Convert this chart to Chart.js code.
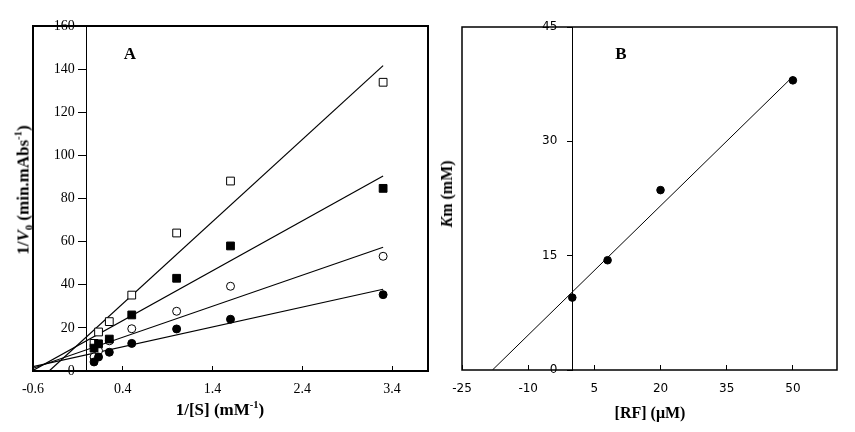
<!DOCTYPE html>
<html>
<head>
<meta charset="utf-8">
<script src="https://cdn.jsdelivr.net/npm/chart.js@4.4.1/dist/chart.umd.min.js"></script>
<style>
  body { margin: 0; background: #fff; }
  #page { position: relative; width: 855px; height: 432px; overflow: hidden; }
  .panel { position: absolute; top: 0; height: 432px; }
  .lbl { position: absolute; font-family: 'Liberation Serif', serif; font-weight: bold; color: #000; white-space: nowrap; line-height: 1; }
  .rot { transform: translate(-50%, -50%) rotate(-90deg); }
  .ctr { transform: translate(-50%, -50%); }
  sub, sup { font-size: 0.62em; line-height: 0; }
</style>
</head>
<body>
<div id="page">
  <div class="panel" style="left:0; width:440px;"><canvas id="chartA"></canvas></div>
  <div class="panel" style="left:420px; width:435px;"><canvas id="chartB"></canvas></div>

  <div class="lbl ctr" style="left:130px; top:53px; font-size:17px;">A</div>
  <div class="lbl ctr" style="left:621px; top:53px; font-size:17px;">B</div>
  <div class="lbl ctr" style="left:220px; top:409px; font-size:17px;">1/[S] (mM<sup>-1</sup>)</div>
  <div class="lbl rot" style="left:23px; top:190px; font-size:17px;">1/<i>V</i><sub>0</sub> (min.mAbs<sup>-1</sup>)</div>
  <div class="lbl ctr" style="left:650px; top:413px; font-size:16px;">[RF] (μM)</div>
  <div class="lbl rot" style="left:447px; top:194px; font-size:16px;"><i>K</i>m (mM)</div>
</div>

<script>
// Panel A: Lineweaver-Burk data
const sInv = [0.08, 0.13, 0.25, 0.5, 1.0, 1.6, 3.3];
const openSquares = [12.8, 18.1, 22.9, 35.2, 64.0, 88.1, 133.9];
const filledSquares = [10.6, 12.6, 14.8, 26.0, 43.0, 58.0, 84.7];
const openCircles = [6.5, 9.4, 14.0, 19.6, 27.7, 39.3, 53.2];
const filledCircles = [4.2, 6.5, 8.7, 12.8, 19.5, 24.0, 35.4];

// fitted lines in panel A, end points
const fitOpenSquares = [[-0.42, 0], [3.3, 141.6]];
const fitFilledSquares = [[-0.6, 0.3], [3.3, 90.4]];
const fitOpenCircles = [[-0.6, 1.25], [3.3, 57.4]];
const fitFilledCircles = [[-0.6, 2.0], [3.3, 37.9]];

const xTicksA = [-0.6, 0.4, 1.4, 2.4, 3.4];
const yTicksA = [0, 20, 40, 60, 80, 100, 120, 140, 160];

// Panel B: Km vs [RF]
const rf = [0, 8, 20, 50];
const km = [9.5, 14.4, 23.6, 38.0];
const fitKm = [[-18.1, 0], [50, 38.5]];

const xTicksB = [-25, -10, 5, 20, 35, 50];
const yTicksB = [0, 15, 30, 45];

Chart.defaults.color = '#000';
Chart.defaults.animation = false;

const toPoints = (xs, ys) => xs.map((x, i) => ({ x: x, y: ys[i] }));
const pairPoints = arr => arr.map(p => ({ x: p[0], y: p[1] }));
const setTicks = list => scale => { scale.ticks = list.map(v => ({ value: v })); };

// draws the box round the plot area
const framePlugin = {
    id: 'frame',
    afterDraw(chart, args, opts) {
        const { ctx, chartArea: a } = chart;
        ctx.save();
        ctx.strokeStyle = '#000';
        ctx.lineWidth = opts.width || 1.5;
        ctx.strokeRect(a.left, a.top, a.right - a.left, a.bottom - a.top);
        ctx.restore();
    }
};

// y tick labels to the left of the axis that sits at x = 0
const yLabelPlugin = {
    id: 'yLabels',
    afterDraw(chart, args, opts) {
        const ys = chart.scales.y;
        const x0 = chart.scales.x.getPixelForValue(0);
        const ctx = chart.ctx;
        ctx.save();
        ctx.font = opts.size + 'px "' + opts.family + '"';
        ctx.fillStyle = '#000';
        ctx.textAlign = 'right';
        ctx.textBaseline = 'middle';
        ys.ticks.forEach(t => ctx.fillText(String(t.value), x0 - opts.gap, ys.getPixelForValue(t.value)));
        ctx.restore();
    }
};

function markers(data, style, filled, radius) {
    return {
        data: data,
        showLine: false,
        pointStyle: style,
        pointRadius: radius,
        pointBackgroundColor: filled ? '#000' : '#fff',
        pointBorderColor: '#000',
        pointBorderWidth: 1,
        order: 1
    };
}

function fitLine(data, width) {
    return {
        data: data,
        showLine: true,
        borderColor: '#000',
        borderWidth: width,
        pointRadius: 0,
        fill: false,
        order: 2
    };
}

const serif = { family: 'Liberation Serif', size: 14 };
const sans = { family: 'DejaVu Sans', size: 12 };

new Chart(document.getElementById('chartA'), {
    type: 'scatter',
    data: {
        datasets: [
            markers(toPoints(sInv, filledCircles), 'circle', true, 4),
            markers(toPoints(sInv, filledSquares), 'rect', true, 5.5),
            markers(toPoints(sInv, openCircles), 'circle', false, 4),
            markers(toPoints(sInv, openSquares), 'rect', false, 5.5),
            fitLine(pairPoints(fitFilledCircles), 1.2),
            fitLine(pairPoints(fitOpenCircles), 1.2),
            fitLine(pairPoints(fitFilledSquares), 1.2),
            fitLine(pairPoints(fitOpenSquares), 1.2)
        ]
    },
    options: {
        responsive: true,
        maintainAspectRatio: false,
        layout: { padding: { left: 33, top: 26, right: 12, bottom: 21 } },
        plugins: {
            legend: { display: false }, tooltip: { enabled: false },
            frame: { width: 2 },
            yLabels: { family: 'Liberation Serif', size: 14, gap: 12 }
        },
        scales: {
            x: {
                type: 'linear', min: -0.6, max: 3.8, position: 'bottom',
                afterBuildTicks: setTicks(xTicksA),
                afterFit: s => { s.height = 40; },
                grid: { drawOnChartArea: false, tickLength: -5, color: '#000' },
                border: { display: false },
                ticks: { padding: 15, autoSkip: false, maxRotation: 0, font: serif, callback: v => v.toFixed(1) }
            },
            y: {
                type: 'linear', min: 0, max: 160, position: { x: 0 },
                afterBuildTicks: setTicks(yTicksA),
                grid: { drawOnChartArea: false, tickLength: 8, color: '#000' },
                border: { color: '#000', width: 1 },
                ticks: { display: false }
            }
        }
    },
    plugins: [framePlugin, yLabelPlugin]
});

new Chart(document.getElementById('chartB'), {
    type: 'scatter',
    data: {
        datasets: [
            markers(toPoints(rf, km), 'circle', true, 3.8),
            fitLine(pairPoints(fitKm), 1)
        ]
    },
    options: {
        responsive: true,
        maintainAspectRatio: false,
        layout: { padding: { left: 42, top: 27, right: 18, bottom: 22 } },
        plugins: {
            legend: { display: false }, tooltip: { enabled: false },
            frame: { width: 1.5 },
            yLabels: { family: 'DejaVu Sans', size: 12, gap: 15 }
        },
        scales: {
            x: {
                type: 'linear', min: -25, max: 60, position: 'bottom',
                afterBuildTicks: setTicks(xTicksB),
                afterFit: s => { s.height = 40; },
                grid: { drawOnChartArea: false, tickLength: -5, color: '#000' },
                border: { display: false },
                ticks: { padding: 17, autoSkip: false, maxRotation: 0, font: sans }
            },
            y: {
                type: 'linear', min: 0, max: 45, position: { x: 0 },
                afterBuildTicks: setTicks(yTicksB),
                grid: { drawOnChartArea: false, tickLength: 5, color: '#000' },
                border: { color: '#000', width: 1 },
                ticks: { display: false }
            }
        }
    },
    plugins: [framePlugin, yLabelPlugin]
});
</script>
</body>
</html>
